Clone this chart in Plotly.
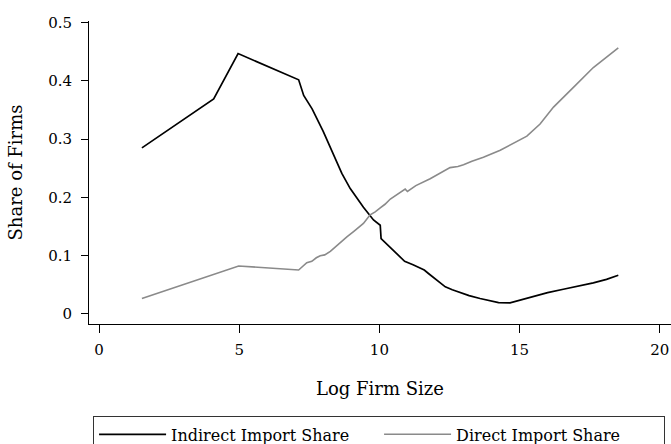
import plotly.graph_objects as go

# Indirect Import Share (black)
ind_x = [1.53, 4.09, 4.96, 7.12, 7.3, 7.6, 8.0, 8.25, 8.66, 8.96, 9.43, 9.79, 10.03, 10.06,
         10.5, 10.9, 11.2, 11.45, 11.6, 11.75, 12.05, 12.35, 12.6, 12.88, 13.2, 13.59, 14.0,
         14.25, 14.66, 15.02, 15.49, 16.0, 16.56, 17.1, 17.63, 18.1, 18.52]
ind_y = [0.285, 0.369, 0.447, 0.402, 0.375, 0.352, 0.313, 0.286, 0.241, 0.215, 0.183, 0.161, 0.152, 0.129,
         0.108, 0.090, 0.084, 0.078, 0.075, 0.069, 0.058, 0.046, 0.041, 0.036, 0.031, 0.026, 0.021,
         0.019, 0.0185, 0.0235, 0.030, 0.036, 0.042, 0.047, 0.053, 0.059, 0.066]

# Direct Import Share (gray)
dir_x = [1.53, 4.98, 7.12, 7.41, 7.59, 7.75, 7.89, 8.05, 8.25, 8.5, 8.84, 9.1, 9.43, 9.67, 9.85,
         10.03, 10.2, 10.39, 10.6, 10.82, 10.92, 11.0, 11.3, 11.81, 12.1, 12.52, 12.8, 13.0, 13.3,
         13.71, 14.31, 14.8, 15.26, 15.73, 16.21, 16.92, 17.63, 18.52]
dir_y = [0.026, 0.082, 0.075, 0.0875, 0.090, 0.096, 0.0995, 0.101, 0.107, 0.118, 0.132, 0.142, 0.155, 0.170, 0.175,
         0.182, 0.188, 0.197, 0.204, 0.212, 0.214, 0.210, 0.220, 0.232, 0.240, 0.251, 0.253, 0.256, 0.262,
         0.269, 0.281, 0.293, 0.305, 0.326, 0.355, 0.389, 0.423, 0.457]

x_ticks = [0, 5, 10, 15, 20]
y_ticks = [0, 0.1, 0.2, 0.3, 0.4, 0.5]
y_tick_text = ["0", "0.1", "0.2", "0.3", "0.4", "0.5"]

FONT = "DejaVu Serif"
FS = 15
LFS = 16

fig = go.Figure()
fig.add_trace(go.Scatter(x=ind_x, y=ind_y, mode="lines", name="Indirect Import Share",
                         line=dict(color="black", width=1.7)))
fig.add_trace(go.Scatter(x=dir_x, y=dir_y, mode="lines", name="Direct Import Share",
                         line=dict(color="#8a8a8a", width=1.6)))

fig.update_layout(
    width=671, height=444,
    margin=dict(l=89, r=0, t=21, b=120, autoexpand=False),
    plot_bgcolor="white", paper_bgcolor="white",
    font=dict(family=FONT, size=FS, color="black"),
    showlegend=True,
    legend=dict(orientation="h", x=0.007, y=-0.305, xanchor="left", yanchor="top",
                bordercolor="#333333", borderwidth=1, entrywidth=203, entrywidthmode="pixels",
                font=dict(family=FONT, size=LFS), itemwidth=67),
)
fig.update_xaxes(range=[-0.357, 20.4], tickvals=x_ticks, ticktext=[str(v) for v in x_ticks],
                 showline=True, linecolor="black", linewidth=1, ticks="outside", ticklen=8,
                 tickwidth=1, tickcolor="black", showgrid=False, zeroline=False,
                 ticklabelstandoff=4,
                 title=dict(text="Log Firm Size", standoff=24), tickfont=dict(size=FS))
fig.update_yaxes(range=[-0.0178, 0.503], tickvals=y_ticks, ticktext=y_tick_text,
                 showline=True, linecolor="black", linewidth=1, ticks="outside", ticklen=7,
                 tickwidth=1, tickcolor="black", showgrid=False, zeroline=False,
                 ticklabelstandoff=6,
                 title=dict(text="Share of Firms", standoff=20), tickfont=dict(size=FS))

fig.write_html("out.html")
